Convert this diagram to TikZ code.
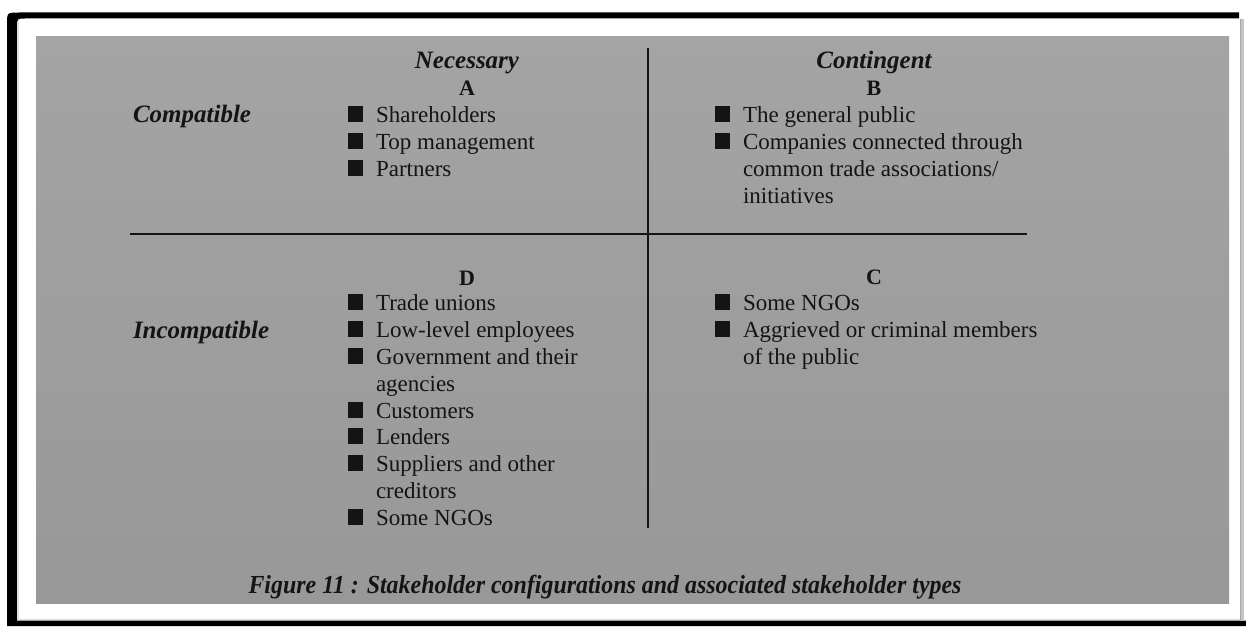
\documentclass[tikz,border=0pt]{standalone}
\usepackage{fontspec}
\setmainfont{Liberation Serif}
\definecolor{ink}{HTML}{141414}
\definecolor{paneltop}{HTML}{A4A4A4}
\definecolor{panelbot}{HTML}{989898}
\definecolor{edge}{HTML}{C4C4C4}
% square bullet followed by the gap before the item text
\newcommand\sqbullet{\textcolor{ink}{\rule{15pt}{16pt}}\hspace{13pt}}
\begin{document}
\begin{tikzpicture}[x=1pt,y=-1pt,
  every node/.style={inner sep=0pt, outer sep=0pt, text=ink},
  head/.style={font=\fontsize{25}{30}\selectfont\bfseries\itshape},
  letter/.style={font=\fontsize{22}{26}\selectfont\bfseries, anchor=base},
  item/.style={font=\fontsize{23}{27}\selectfont, anchor=base west},
  divider/.style={line width=2pt, draw=ink},
  caption/.style={font=\fontsize{26}{30}\selectfont\bfseries\itshape, anchor=base}]
\useasboundingbox (0,0) rectangle (1246,626);
\fill[white] (0,0) rectangle (1246,626);

% black frame with rounded top-left corner
\fill[black] (1239,12.5) -- (19,12.5) .. controls (7,12.5) .. (7,24.5)
  -- (7,626) -- (1246,626) -- (1246,620.5) -- (17,620.5) -- (17,27)
  .. controls (17,18.5) .. (25,18.5) -- (1239,18.5) -- cycle;
\fill[edge] (1240.5,19) rectangle (1244,620.5);
\draw[gray!70, line width=0.8pt] (1240.5,19) -- (1240.5,620.5);
\draw[gray!25, line width=1pt] (18.5,20) -- (18.5,619.5) -- (1240,619.5);

% grey panel
\fill[top color=paneltop, bottom color=panelbot] (36,37) rectangle (1229,603);

% quadrant dividers
\coordinate (vtop) at (648,48);
\coordinate (vbot) at (648,528);
\coordinate (hleft) at (130,234);
\coordinate (hright) at (1027,234);
\draw[divider] (vtop) -- (vbot);
\draw[divider] (hleft) -- (hright);

% column and row headings
\node[head, anchor=base] (nec) at (467,68) {Necessary};
\node[head, anchor=base] (con) at (874,68) {Contingent};
\node[head, anchor=base west] (cmp) at (133,122) {Compatible};
\node[head, anchor=base west] (inc) at (133,338) {Incompatible};

% quadrant A
\node[letter] (qa) at (467,95) {A};
\node[item] (a1) at (348,122) {\sqbullet Shareholders};
\node[item] (a2) at (348,149) {\sqbullet Top management};
\node[item] (a3) at (348,176) {\sqbullet Partners};

% quadrant B
\node[letter] (qb) at (874,95) {B};
\node[item] (b1) at (715,122) {\sqbullet The general public};
\node[item] (b2) at (715,149) {\sqbullet Companies connected through};
\node[item] (b2b) at (743,176) {common trade associations/};
\node[item] (b2c) at (743,203) {initiatives};

% quadrant D
\node[letter] (qd) at (467,285) {D};
\node[item] (d1) at (348,310) {\sqbullet Trade unions};
\node[item] (d2) at (348,337) {\sqbullet Low-level employees};
\node[item] (d3) at (348,364) {\sqbullet Government and their};
\node[item] (d3b) at (376,391) {agencies};
\node[item] (d4) at (348,418) {\sqbullet Customers};
\node[item] (d5) at (348,444) {\sqbullet Lenders};
\node[item] (d6) at (348,471) {\sqbullet Suppliers and other};
\node[item] (d6b) at (376,498) {creditors};
\node[item] (d7) at (348,525) {\sqbullet Some NGOs};

% quadrant C
\node[letter] (qc) at (874,284) {C};
\node[item] (c1) at (715,310) {\sqbullet Some NGOs};
\node[item] (c2) at (715,337) {\sqbullet Aggrieved or criminal members};
\node[item] (c2b) at (743,364) {of the public};

% caption, set slightly condensed
\node[caption] (cap) at (605,593) {\scalebox{0.92}[1]{Figure 11 : Stakeholder configurations and associated stakeholder types}};
\end{tikzpicture}
\end{document}
